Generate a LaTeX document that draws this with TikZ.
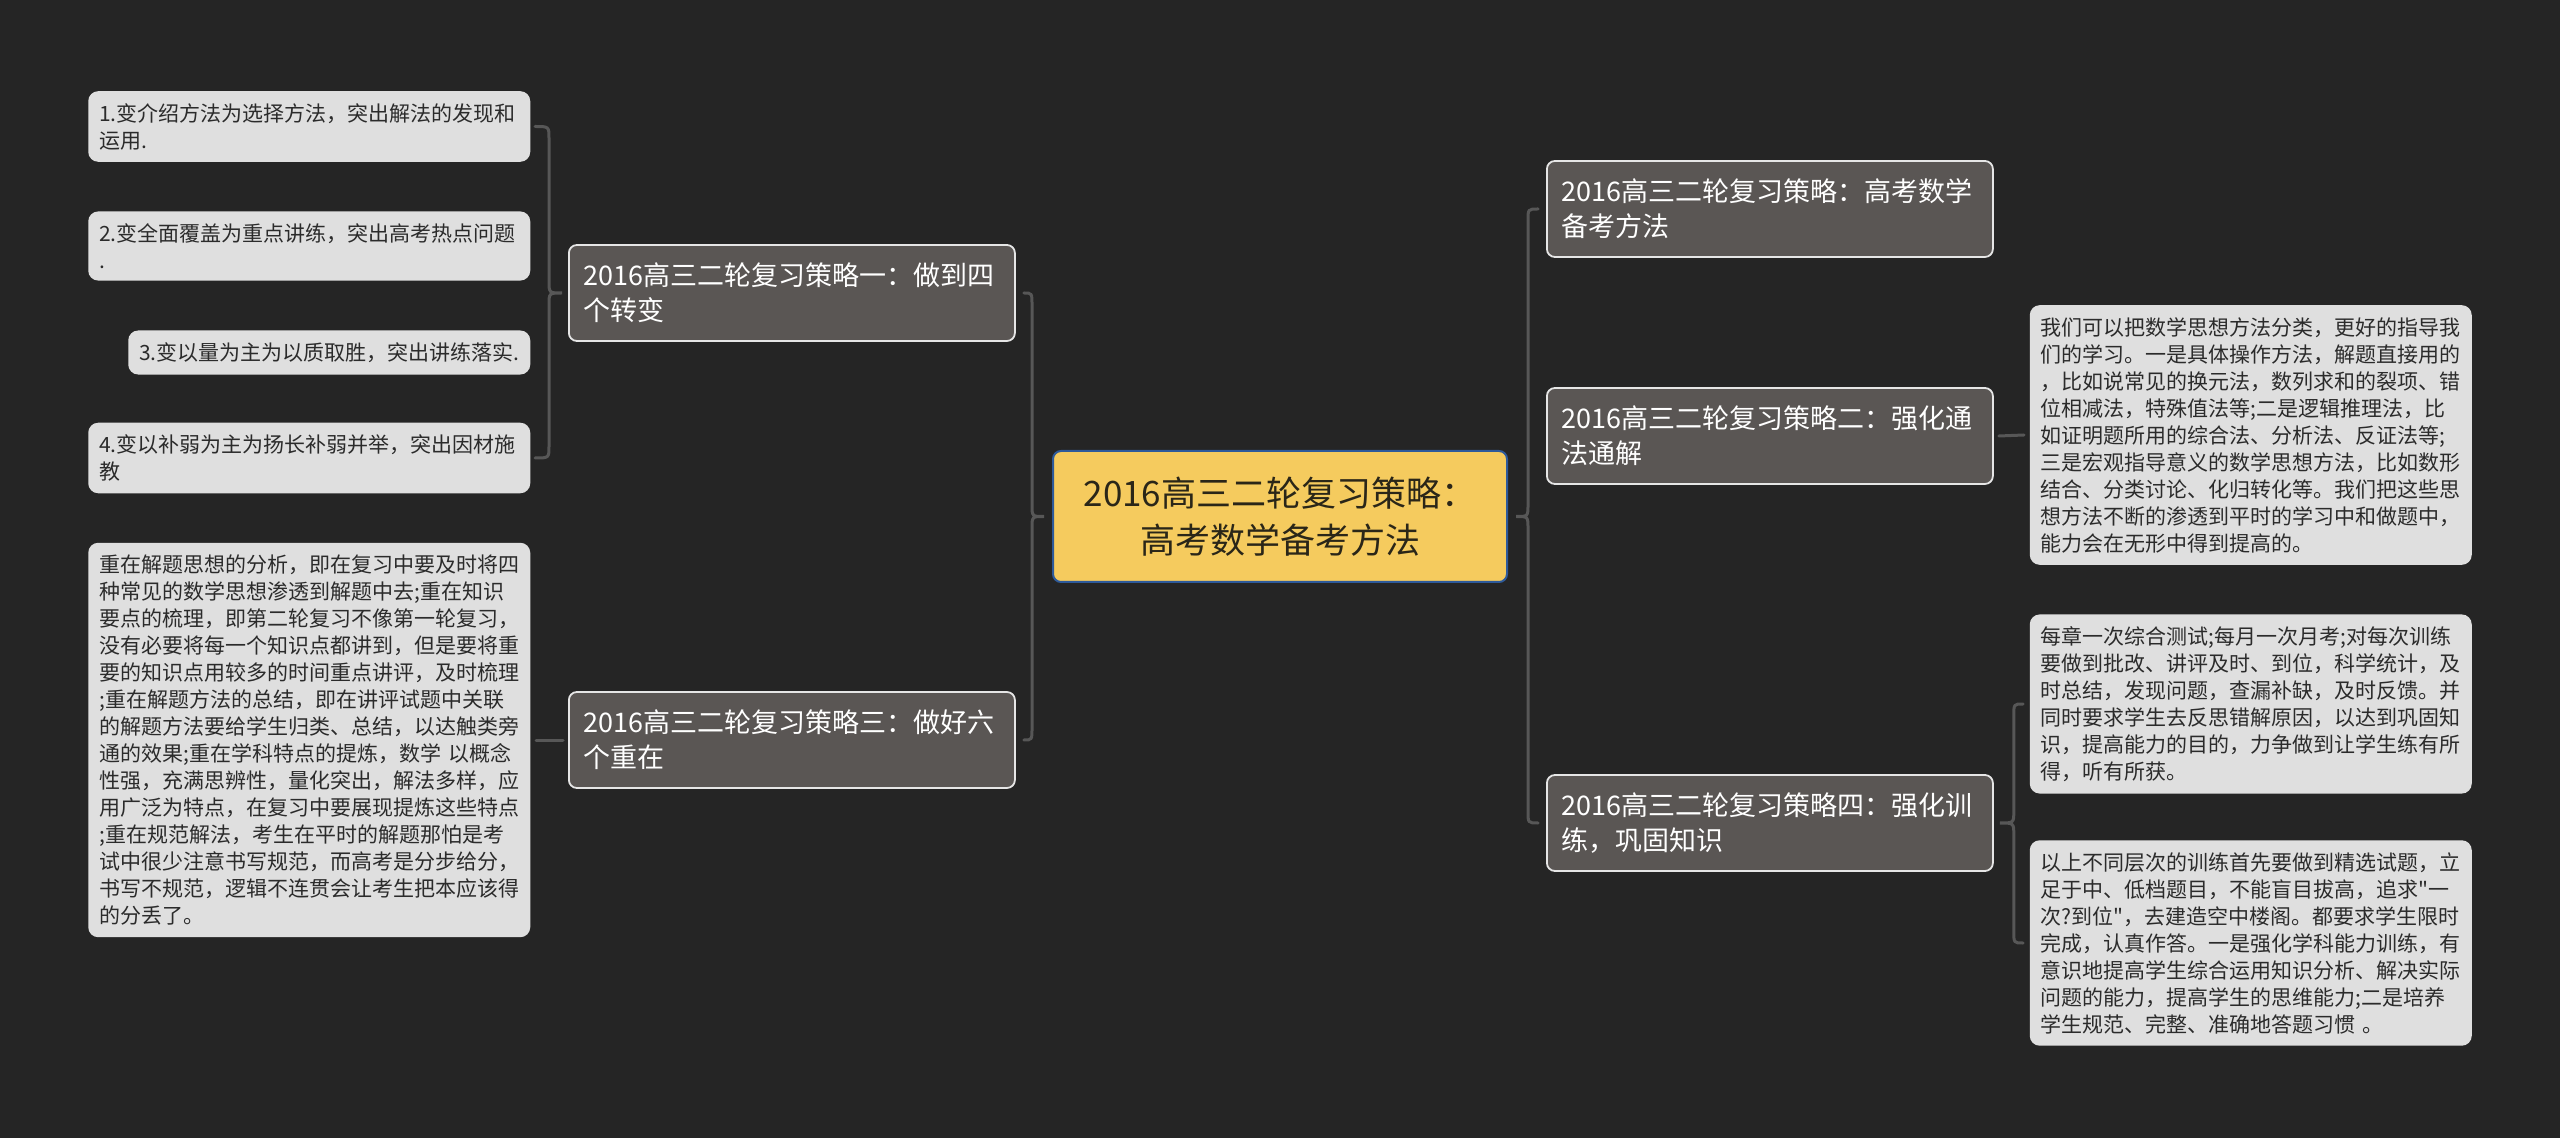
\documentclass[tikz,border=0pt]{standalone}
\usepackage{fontspec}
\setmainfont{Noto Sans CJK SC}[Ligatures=TeXOff]
\usetikzlibrary{calc}

\definecolor{bgdark}{HTML}{252525}
\definecolor{braceline}{HTML}{575757}
\definecolor{rootfill}{HTML}{F5CB5E}
\definecolor{rootline}{HTML}{2E5A9A}
\definecolor{roottext}{HTML}{2A2618}
\definecolor{branchfill}{HTML}{5A5654}
\definecolor{branchline}{HTML}{E6E6E6}
\definecolor{leaffill}{HTML}{DFDFDF}
\definecolor{leaftext}{HTML}{2B2B2B}

\tikzset{every picture/.style={line width=0.75pt}}
\tikzset{
  rootbox/.style={draw=rootline, line width=1pt, fill=rootfill, rounded corners=4pt, text=roottext,
    align=center, text width=215pt, inner xsep=6pt, minimum height=65.5pt,
    font=\fontsize{17.5}{23.5}\selectfont},
  branchbox/.style={draw=branchline, line width=0.9pt, fill=branchfill, rounded corners=4pt, text=white,
    align=left, text width=208pt, inner xsep=7.5pt, minimum height=48pt,
    font=\fontsize{13.5}{17.5}\selectfont},
  leafbox/.style={fill=leaffill, rounded corners=5pt, text=leaftext, align=left, text width=210pt,
    inner xsep=5.5pt, inner ysep=6pt, font=\fontsize{10.5}{13.5}\selectfont},
  brace/.style={draw=braceline, line width=1.5pt, line cap=round},
}

\begin{document}
\begin{tikzpicture}[x=0.5pt,y=0.5pt,yscale=-1]
		% background, sets the picture size
		\fill[bgdark] (0,0) rectangle (2560,1138);
		\useasboundingbox (0,0) rectangle (2560,1138);

		% Root
		\node[rootbox] (rt) at (1280,516.5) {2016高三二轮复习策略：\\高考数学备考方法};

		% Left branches
		\node[branchbox, anchor=west] (b1) at (568,293) {2016高三二轮复习策略一：做到四\\个转变};
		\node[branchbox, anchor=west] (b3) at (568,740) {2016高三二轮复习策略三：做好六\\个重在};

		% Right branches
		\node[branchbox, anchor=west] (bA) at (1546,209) {2016高三二轮复习策略：高考数学\\备考方法};
		\node[branchbox, anchor=west] (bB) at (1546,436) {2016高三二轮复习策略二：强化通\\法通解};
		\node[branchbox, anchor=west] (bC) at (1546,823) {2016高三二轮复习策略四：强化训\\练，巩固知识};

		% Left leaves
		\node[leafbox, anchor=east] (l1) at (531,126.5) {1.变介绍方法为选择方法，突出解法的发现和\\运用.};
		\node[leafbox, anchor=east] (l2) at (531,246) {2.变全面覆盖为重点讲练，突出高考热点问题\\.};
		\node[leafbox, anchor=east, text width=190pt] (l3) at (531,352.5) {3.变以量为主为以质取胜，突出讲练落实.};
		\node[leafbox, anchor=east] (l4) at (531,458) {4.变以补弱为主为扬长补弱并举，突出因材施\\教};
		\node[leafbox, anchor=east] (l5) at (531,740) {重在解题思想的分析，即在复习中要及时将四\\
种常见的数学思想渗透到解题中去;重在知识\\
要点的梳理，即第二轮复习不像第一轮复习，\\
没有必要将每一个知识点都讲到，但是要将重\\
要的知识点用较多的时间重点讲评，及时梳理\\
;重在解题方法的总结，即在讲评试题中关联\\
的解题方法要给学生归类、总结，以达触类旁\\
通的效果;重在学科特点的提炼，数学 以概念\\
性强，充满思辨性，量化突出，解法多样，应\\
用广泛为特点，在复习中要展现提炼这些特点\\
;重在规范解法，考生在平时的解题那怕是考\\
试中很少注意书写规范，而高考是分步给分，\\
书写不规范，逻辑不连贯会让考生把本应该得\\
的分丢了。};

		% Right leaves
		\node[leafbox, anchor=west] (cB) at (2029,435) {我们可以把数学思想方法分类，更好的指导我\\
们的学习。一是具体操作方法，解题直接用的\\
，比如说常见的换元法，数列求和的裂项、错\\
位相减法，特殊值法等;二是逻辑推理法，比\\
如证明题所用的综合法、分析法、反证法等;\\
三是宏观指导意义的数学思想方法，比如数形\\
结合、分类讨论、化归转化等。我们把这些思\\
想方法不断的渗透到平时的学习中和做题中，\\
能力会在无形中得到提高的。};
		\node[leafbox, anchor=west] (c1) at (2029,704) {每章一次综合测试;每月一次月考;对每次训练\\
要做到批改、讲评及时、到位，科学统计，及\\
时总结，发现问题，查漏补缺，及时反馈。并\\
同时要求学生去反思错解原因，以达到巩固知\\
识，提高能力的目的，力争做到让学生练有所\\
得，听有所获。};
		\node[leafbox, anchor=west] (c2) at (2029,943) {以上不同层次的训练首先要做到精选试题，立\\
足于中、低档题目，不能盲目拔高，追求"一\\
次?到位"，去建造空中楼阁。都要求学生限时\\
完成，认真作答。一是强化学科能力训练，有\\
意识地提高学生综合运用知识分析、解决实际\\
问题的能力，提高学生的思维能力;二是培养\\
学生规范、完整、准确地答题习惯 。};

		% Brace: root to left branches
		\coordinate (lk) at ($(rt.west)+(-8,0)$);
		\coordinate (ls) at ($(rt.west)+(-20,0)$);
		\draw[brace] ($(b1.east)+(8,0)$) .. controls (ls |- b1.east) .. ($(ls |- b1.east)+(0,12)$)
			-- ($(ls)+(0,-12)$) .. controls (ls) .. (lk) .. controls (ls) .. ($(ls)+(0,12)$)
			-- ($(ls |- b3.east)+(0,-12)$) .. controls (ls |- b3.east) .. ($(b3.east)+(8,0)$);

		% Brace: root to right branches
		\coordinate (rk) at ($(rt.east)+(8,0)$);
		\coordinate (rs) at ($(rt.east)+(20,0)$);
		\draw[brace] ($(bA.west)+(-8,0)$) .. controls (rs |- bA.west) .. ($(rs |- bA.west)+(0,12)$)
			-- ($(rs)+(0,-12)$) .. controls (rs) .. (rk) .. controls (rs) .. ($(rs)+(0,12)$)
			-- ($(rs |- bC.west)+(0,-12)$) .. controls (rs |- bC.west) .. ($(bC.west)+(-8,0)$);

		% Brace: branch one to its four leaves
		\coordinate (k1) at ($(b1.west)+(-6,0)$);
		\coordinate (s1) at ($(b1.west)+(-19,0)$);
		\draw[brace] ($(l1.east)+(4,0)$) .. controls (s1 |- l1.east) .. ($(s1 |- l1.east)+(0,12)$)
			-- ($(s1)+(0,-12)$) .. controls (s1) .. (k1) .. controls (s1) .. ($(s1)+(0,12)$)
			-- ($(s1 |- l4.east)+(0,-12)$) .. controls (s1 |- l4.east) .. ($(l4.east)+(4,0)$);

		% Brace: branch four to its two leaves
		\coordinate (k4) at ($(bC.east)+(6,0)$);
		\coordinate (s4) at ($(bC.east)+(20,0)$);
		\draw[brace] ($(c1.west)+(-6,0)$) .. controls (s4 |- c1.west) .. ($(s4 |- c1.west)+(0,12)$)
			-- ($(s4)+(0,-12)$) .. controls (s4) .. (k4) .. controls (s4) .. ($(s4)+(0,12)$)
			-- ($(s4 |- c2.west)+(0,-12)$) .. controls (s4 |- c2.west) .. ($(c2.west)+(-6,0)$);

		% Single links
		\draw[brace] ($(b3.west)+(-5,0)$) -- ($(l5.east)+(5,0)$);
		\draw[brace] ($(bB.east)+(5,0)$) -- ($(cB.west)+(-5,0)$);

		\end{tikzpicture}
\end{document}
